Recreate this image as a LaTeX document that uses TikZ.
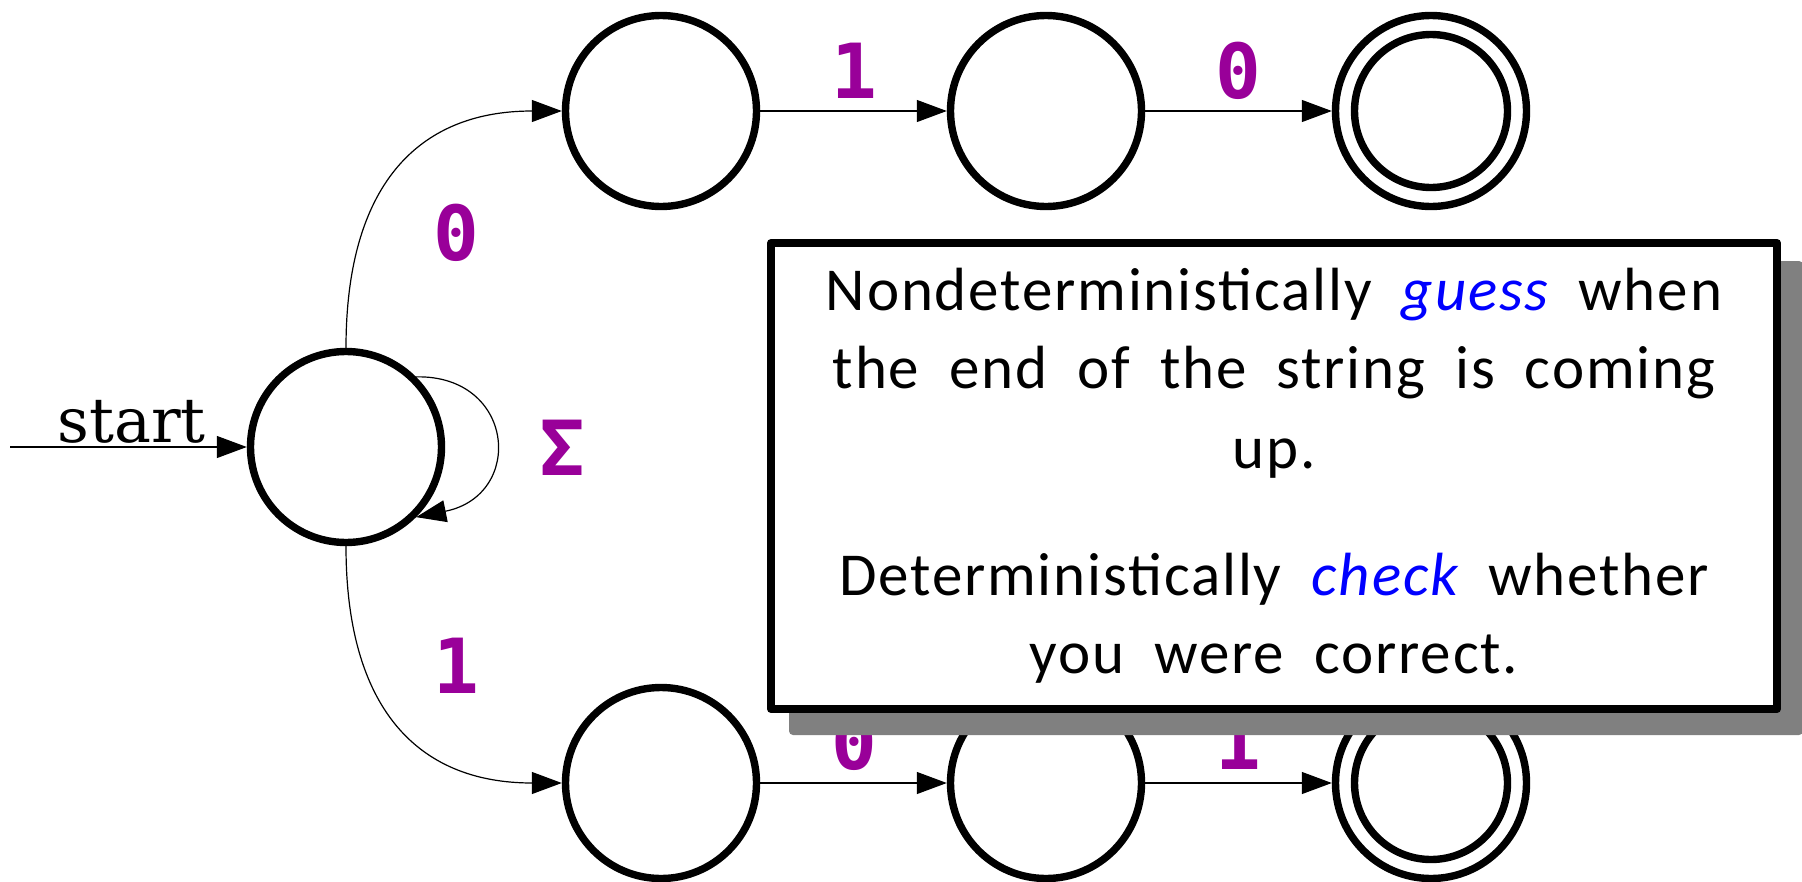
\documentclass[tikz,border=0pt]{standalone}
\usepackage{fontspec}
\setmainfont{DejaVu Serif}
\newfontfamily\lblfont{DejaVu Sans Mono}
\newfontfamily\notefont[LetterSpace=3.0]{Carlito}
\usetikzlibrary{arrows.meta}
\definecolor{lblpurple}{RGB}{153,0,153}
\definecolor{shadowgray}{RGB}{128,128,128}
\newcommand\notesetup{\notefont\fontsize{61bp}{70bp}\selectfont}
\newcommand\widespace{\spaceskip=30bp\relax}
\begin{document}
\begin{tikzpicture}[x=1bp,y=-1bp,
  state/.style={circle,draw,line width=7.4bp,minimum size=191bp,inner sep=0pt},
  edge/.style={line width=1.2bp,-{Triangle[length=30bp,width=22bp]}},
  lbl/.style={text=lblpurple,font=\lblfont\bfseries\fontsize{76bp}{76bp}\selectfont,inner sep=0pt},
  noteline/.style={anchor=base,inner sep=0pt,font=\notesetup}
]
\useasboundingbox (0,0) rectangle (1802,882);
% states
\node[state] (s) at (346,447) {};
\node[state] (a1) at (661,111) {};
\node[state] (a2) at (1046,111) {};
\node[state] (a3) at (1431,111) {};
\node[state] (b1) at (661,783) {};
\node[state] (b2) at (1046,783) {};
\node[state] (b3) at (1431,783) {};
\draw[line width=7.4bp] (a3.center) circle[radius=76.5bp];
\draw[line width=7.4bp] (b3.center) circle[radius=76.5bp];
% start
\coordinate (st) at (10,447);
\draw[edge] (st) -- (s);
\node[anchor=base east,inner sep=0pt,font=\fontsize{62bp}{62bp}\selectfont] (startlbl) at (206,442) {start};
% edges
\draw[edge] (s.north) .. controls +(0,-160) and +(-146,0) .. (a1.west);
\draw[edge] (s.south) .. controls +(0,160) and +(-146,0) .. (b1.west);
\draw[edge] (s.45) .. controls +(99,-2) and +(109,-22) .. (s.-45);
\draw[edge] (a1) -- (a2);
\draw[edge] (a2) -- (a3);
\draw[edge] (b1) -- (b2);
\draw[edge] (b2) -- (b3);
% labels
\node[lbl] (l0) at (456,233) {0};
\node[lbl] (l1) at (456,666) {1};
\node[lbl] (lsig) at (562,448) {Σ};
\node[lbl] (la12) at (854,71) {1};
\node[lbl] (la23) at (1238,71) {0};
\node[lbl] (lb12) at (854,742) {0};
\node[lbl] (lb23) at (1238,742) {1};
% note box
\fill[shadowgray,rounded corners=4bp] (789,261) rectangle (1803,735);
\draw[line width=8bp,fill=white,line join=round] (771,243) rectangle (1777,709);
\node[noteline] (n1) at (1274,310) {\widespace Nondeterministically \textcolor{blue}{\itshape guess} when};
\node[noteline] (n2) at (1274,388) {\widespace the end of the string is coming};
\node[noteline] (n3) at (1274,468) {up.};
\node[noteline] (n4) at (1274,595) {\widespace Deterministically \textcolor{blue}{\itshape check} whether};
\node[noteline] (n5) at (1274,673) {\widespace you were correct.};
\end{tikzpicture}
\end{document}
